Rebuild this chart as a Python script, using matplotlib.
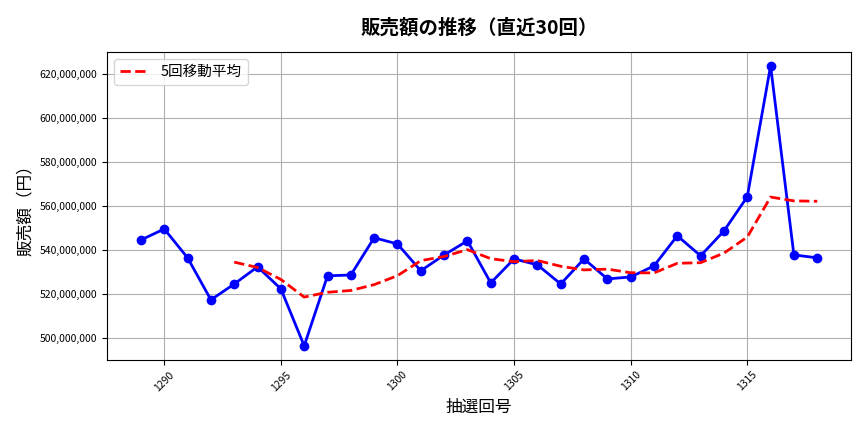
import numpy as np
import pandas as pd
import matplotlib
matplotlib.use('Agg')
import matplotlib.pyplot as plt
from matplotlib.ticker import FuncFormatter

plt.rcParams['font.family'] = ['Noto Sans CJK JP', 'DejaVu Sans']

draws = list(range(1289, 1319))
sales = [544.5, 549.5, 536.4, 517.3, 524.5, 532.3, 522.3, 496.4, 528.2, 528.6,
         545.5, 542.7, 530.5, 537.7, 544.1, 525.0, 535.9, 533.2, 524.5, 535.9,
         526.8, 527.7, 532.7, 546.4, 537.3, 548.6, 564.1, 623.6, 537.7, 536.4]
sales = np.array(sales) * 1e6

# 5回移動平均
ma = pd.Series(sales).rolling(5).mean()

fig, ax = plt.subplots(figsize=(8.64, 4.32), dpi=100)
ax.plot(draws, sales, 'o-', color='blue', linewidth=2, markersize=6)
ax.plot(draws, ma, '--', color='red', linewidth=2, label='5回移動平均')

ax.set_title('販売額の推移（直近30回）', fontsize=14, fontweight='bold', pad=13)
ax.set_xlabel('抽選回号', fontsize=12)
ax.set_ylabel('販売額（円）', fontsize=12)
ax.yaxis.set_major_formatter(FuncFormatter(lambda v, p: f'{int(v):,}'))
ax.tick_params(axis='both', labelsize=7.5)
plt.setp(ax.get_xticklabels(), rotation=45)
ax.grid(True, color='#b0b0b0', linewidth=0.8)
ax.legend(loc='upper left', fontsize=10.5)

plt.subplots_adjust(left=0.124, right=0.985, top=0.880, bottom=0.167)
plt.savefig('out.png')
